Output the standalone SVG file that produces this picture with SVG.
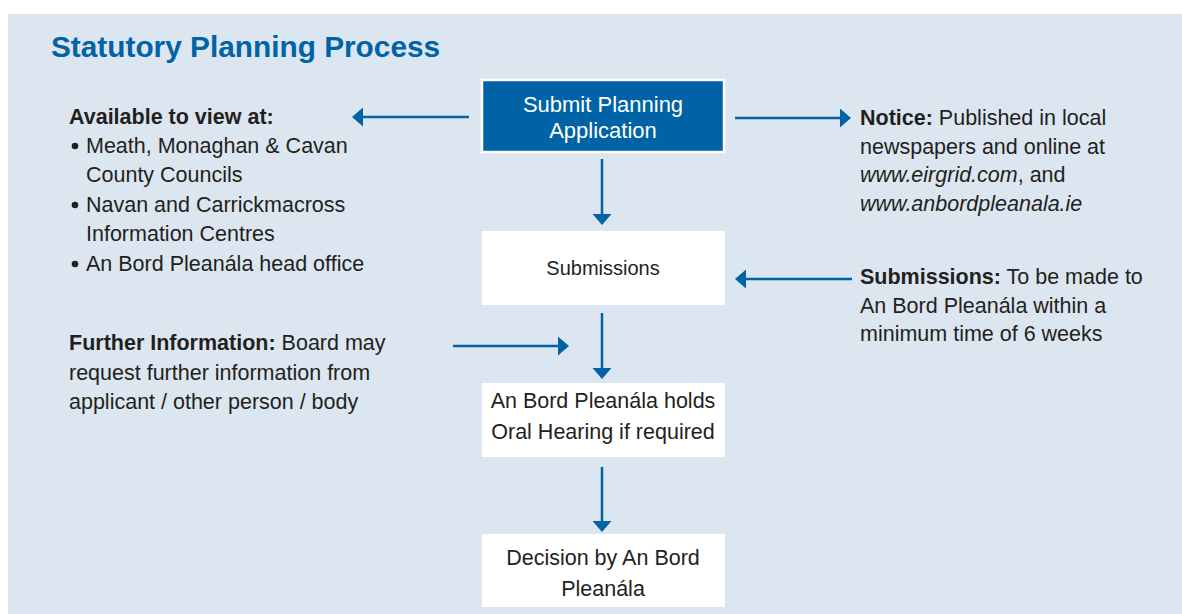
<svg xmlns="http://www.w3.org/2000/svg" width="1182" height="614" viewBox="0 0 1182 614">
<defs>
<style>
.t{font-family:"Liberation Sans",Arial,sans-serif;font-size:21.5px;fill:#231f20}
.b{font-weight:bold}
.i{font-style:italic}
.c{text-anchor:middle}
.conn{stroke:#0063a6;stroke-width:2.5;fill:none;marker-end:url(#ah)}
.box{fill:#ffffff}
.dot{fill:#231f20}
</style>
<marker id="ah" markerUnits="userSpaceOnUse" viewBox="0 0 11 19" markerWidth="11" markerHeight="19" refX="2" refY="9.5" orient="auto">
<path d="M0,0 L11,9.5 L0,19 z" fill="#0063a6"/>
</marker>
</defs>
<rect x="0" y="0" width="1182" height="614" fill="#ffffff"/>
<rect x="8" y="14" width="1174" height="600" fill="#dce6f0"/>
<text id="title" x="51" y="57" style="font-family:'Liberation Sans',Arial,sans-serif;font-size:29.8px;font-weight:bold;fill:#0063a6">Statutory Planning Process</text>

<g id="connectors">
<line class="conn" x1="469" y1="117" x2="361" y2="117"/>
<line class="conn" x1="735" y1="118" x2="842" y2="118"/>
<line class="conn" x1="602" y1="159" x2="602" y2="216"/>
<line class="conn" x1="852" y1="279" x2="744" y2="279"/>
<line class="conn" x1="453" y1="346" x2="560" y2="346"/>
<line class="conn" x1="602" y1="313" x2="602" y2="370"/>
<line class="conn" x1="602" y1="467" x2="602" y2="523"/>
</g>

<g id="submit">
<rect x="482" y="80" width="242" height="72" fill="#0063a6" stroke="#ffffff" stroke-width="2.5"/>
<text class="t c" x="603" y="112" style="fill:#ffffff;font-size:22px">Submit Planning</text>
<text class="t c" x="603" y="138" style="fill:#ffffff;font-size:22px">Application</text>
</g>

<g id="submissions">
<rect class="box" x="482" y="231" width="243" height="74"/>
<text class="t c" x="603" y="275" style="font-size:20px">Submissions</text>
</g>

<g id="oral">
<rect class="box" x="482" y="383" width="243" height="74"/>
<text class="t c" x="603" y="408">An Bord Pleanála holds</text>
<text class="t c" x="603" y="439">Oral Hearing if required</text>
</g>

<g id="decision">
<rect class="box" x="482" y="534" width="243" height="73"/>
<text class="t c" x="603" y="565">Decision by An Bord</text>
<text class="t c" x="603" y="596">Pleanála</text>
</g>

<g id="available">
<text class="t b" x="69" y="124">Available to view at:</text>
<circle class="dot" cx="75" cy="146" r="3.3"/>
<text class="t" x="86" y="153">Meath, Monaghan &amp; Cavan</text>
<text class="t" x="86" y="182">County Councils</text>
<circle class="dot" cx="75" cy="205" r="3.3"/>
<text class="t" x="86" y="212">Navan and Carrickmacross</text>
<text class="t" x="86" y="241">Information Centres</text>
<circle class="dot" cx="75" cy="264" r="3.3"/>
<text class="t" x="86" y="271">An Bord Pleanála head office</text>
</g>

<g id="notice">
<text class="t" x="860" y="125"><tspan class="b">Notice:</tspan> Published in local</text>
<text class="t" x="860" y="154">newspapers and online at</text>
<text class="t" x="860" y="182"><tspan class="i">www.eirgrid.com</tspan>, and</text>
<text class="t i" x="860" y="211">www.anbordpleanala.ie</text>
</g>

<g id="submissions-note">
<text class="t" x="860" y="284"><tspan class="b">Submissions:</tspan> To be made to</text>
<text class="t" x="860" y="313">An Bord Pleanála within a</text>
<text class="t" x="860" y="341">minimum time of 6 weeks</text>
</g>

<g id="further">
<text class="t" x="69" y="350"><tspan class="b">Further Information:</tspan> Board may</text>
<text class="t" x="69" y="380">request further information from</text>
<text class="t" x="69" y="409">applicant / other person / body</text>
</g>
</svg>
